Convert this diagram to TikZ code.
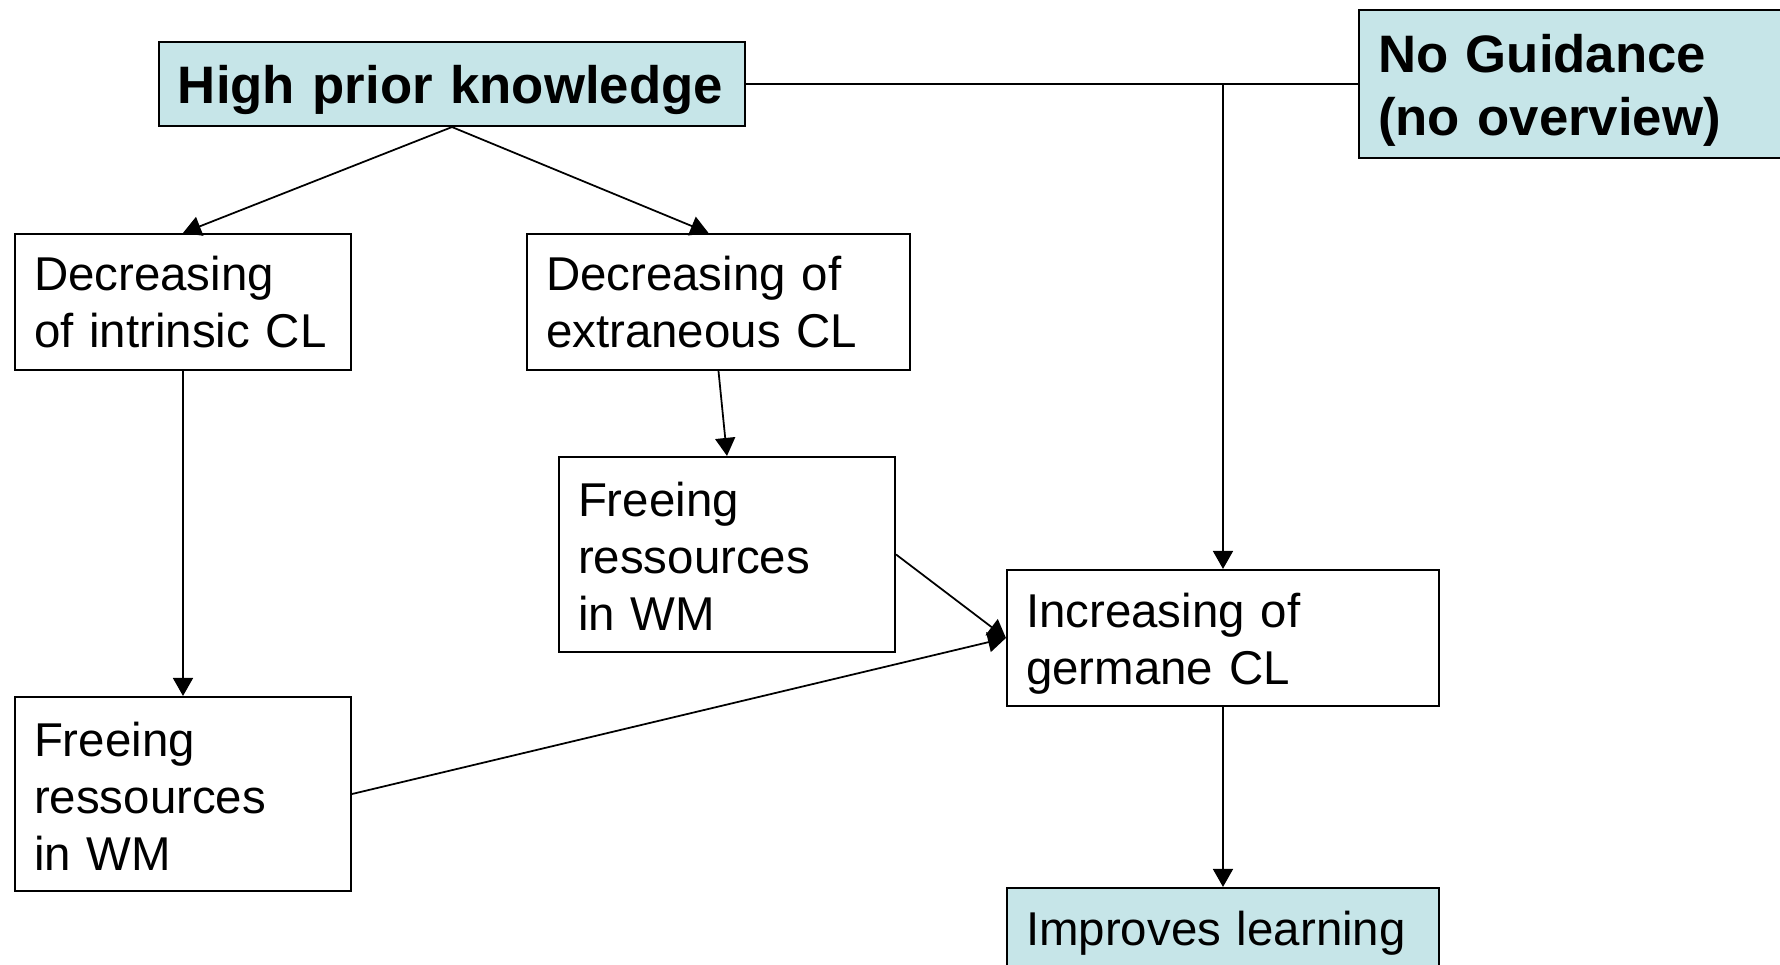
\documentclass[tikz,border=0pt]{standalone}
\usepackage{fontspec}
\setmainfont{Liberation Sans}
\usetikzlibrary{arrows.meta,positioning}
\definecolor{cuefill}{RGB}{198,229,232}

\begin{document}
\begin{tikzpicture}[
  effect/.style={draw,line width=0.6pt,align=left,anchor=center,
    inner xsep=1.9mm,inner ysep=0pt,
    font=\fontsize{13.5}{16.2}\selectfont},
  cue/.style={effect,fill=cuefill,font=\fontsize{15}{18}\selectfont\bfseries},
  lowered/.style={execute at begin node={\rule{0pt}{#1}}},
  flow/.style={-{Triangle[length=1.8mm,width=2mm]},line width=0.5pt}]
\useasboundingbox (0,0) rectangle (17.8,-9.65);
\node[cue,lowered=14.1pt,text width=5.48cm,minimum height=0.84cm] (prior) at (4.52,-0.84)
  {High prior knowledge};
\node[cue,lowered=14.6pt,text width=3.85cm,minimum height=1.48cm] (guide) at (15.705,-0.84)
  {No Guidance\\(no overview)};
\node[effect,text width=2.98cm,minimum height=1.36cm] (intrinsic) at (1.83,-3.02)
  {Decreasing\\of intrinsic CL};
\node[effect,text width=3.45cm,minimum height=1.36cm] (extraneous) at (7.185,-3.02)
  {Decreasing of\\extraneous CL};
\node[effect,lowered=11pt,text width=2.98cm,minimum height=1.95cm] (freeright) at (7.27,-5.545)
  {Freeing\\ressources\\in WM};
\node[effect,lowered=11pt,text width=2.98cm,minimum height=1.94cm] (freeleft) at (1.83,-7.94)
  {Freeing\\ressources\\in WM};
\node[effect,lowered=13.1pt,text width=3.94cm,minimum height=1.36cm] (germane) at (12.23,-6.38)
  {Increasing of\\germane CL};
\node[effect,fill=cuefill,text width=3.94cm,minimum height=0.9cm] (learning) at (12.23,-9.33)
  {Improves learning};
\coordinate (split) at (prior.east -| germane.north);
\draw[line width=0.5pt] (prior.east) -- (guide.west);
\draw[flow] (split) -- (germane.north);
\draw[flow] (prior.south) -- (intrinsic.north);
\draw[flow] (prior.south) -- ([xshift=-1mm]extraneous.north);
\draw[flow] (extraneous.south) -- (freeright.north);
\draw[flow] (intrinsic.south) -- (freeleft.north);
\draw[flow] (freeright.east) -- (germane.west);
\draw[flow] (freeleft.east) -- (germane.west);
\draw[flow] (germane.south) -- (learning.north);
\end{tikzpicture}
\end{document}
